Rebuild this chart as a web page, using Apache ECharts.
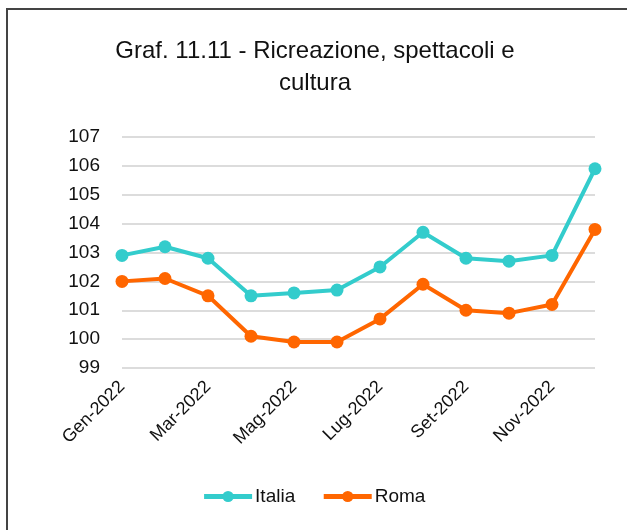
<!DOCTYPE html>
<html>
<head>
<meta charset="utf-8">
<script src="https://cdn.jsdelivr.net/npm/echarts@6/dist/echarts.min.js"></script>
<style>
  html, body { margin: 0; padding: 0; background: #fff; }
  #main { width: 627px; height: 530px; }
</style>
</head>
<body>
<div id="main"></div>
<script>
// categorie (mesi)
var mesi = ['Gen-2022', 'Feb-2022', 'Mar-2022', 'Apr-2022', 'Mag-2022', 'Giu-2022',
  'Lug-2022', 'Ago-2022', 'Set-2022', 'Ott-2022', 'Nov-2022', 'Dic-2022']
// serie
var italia = [102.9, 103.2, 102.8, 101.5, 101.6, 101.7, 102.5, 103.7, 102.8, 102.7, 102.9, 105.9]
var roma = [102.0, 102.1, 101.5, 100.1, 99.9, 99.9, 100.7, 101.9, 101.0, 100.9, 101.2, 103.8]

var font = 'Liberation Sans'
var chart = echarts.init(document.getElementById('main'))
chart.setOption({
  animation: false,
  color: ['#33CCCC', '#FF6600'],
  textStyle: { fontFamily: font },
  graphic: [{
    type: 'rect',
    shape: { x: 7, y: 9, width: 700, height: 600 },
    style: { fill: 'none', stroke: '#444', lineWidth: 2 }
  }],
  title: {
    text: 'Graf. 11.11 - Ricreazione, spettacoli e\ncultura',
    left: 310,
    top: 30,
    textAlign: 'center',
    textStyle: { fontFamily: font, fontSize: 24, fontWeight: 'normal', color: '#111', lineHeight: 32 }
  },
  legend: {
    top: 482,
    left: 'center',
    itemWidth: 48,
    itemHeight: 14,
    itemGap: 26,
    lineStyle: { width: 5 },
    textStyle: { fontFamily: font, fontSize: 19, color: '#111', padding: [0, 0, 0, -2] },
    data: ['Italia', 'Roma']
  },
  grid: { left: 122, right: 32, top: 137, bottom: 162, containLabel: false },
  xAxis: {
    type: 'category',
    data: mesi,
    boundaryGap: false,
    axisLine: { show: false },
    axisTick: { show: false },
    axisLabel: {
      interval: 1,
      rotate: 45,
      fontSize: 18,
      color: '#111',
      margin: 16,
      fontFamily: font
    }
  },
  yAxis: {
    type: 'value',
    min: 99,
    max: 107,
    interval: 1,
    axisLine: { show: false },
    axisTick: { show: false },
    axisLabel: { fontSize: 19, color: '#111', margin: 22, fontFamily: font },
    splitLine: { lineStyle: { color: '#d0d0d0', width: 1.5 } }
  },
  series: [{
    name: 'Italia',
    type: 'line',
    data: italia,
    symbol: 'circle',
    symbolSize: 13,
    lineStyle: { width: 4 }
  }, {
    name: 'Roma',
    type: 'line',
    data: roma,
    symbol: 'circle',
    symbolSize: 13,
    lineStyle: { width: 4 }
  }]
})
</script>
</body>
</html>
